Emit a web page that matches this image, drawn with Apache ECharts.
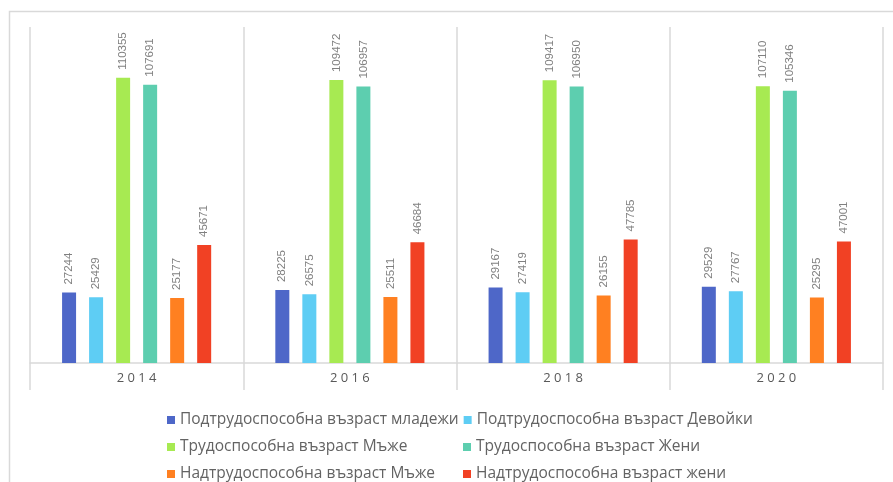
<!DOCTYPE html>
<html><head><meta charset="utf-8">
<script src="https://cdn.jsdelivr.net/npm/echarts@6/dist/echarts.min.js"></script>
<style>html,body{margin:0;padding:0;background:#fff}#c{width:893px;height:482px}</style>
</head><body><div id="c"></div>
<script>
const categories = ['2014', '2016', '2018', '2020'];
const seriesNames = [
  'Подтрудоспособна възраст младежи',
  'Подтрудоспособна възраст Девойки',
  'Трудоспособна възраст Мъже',
  'Трудоспособна възраст Жени',
  'Надтрудоспособна възраст Мъже',
  'Надтрудоспособна възраст жени'
];
const youngMale   = [27244, 28225, 29167, 29529];
const youngFemale = [25429, 26575, 27419, 27767];
const workMale    = [110355, 109472, 109417, 107110];
const workFemale  = [107691, 106957, 106950, 105346];
const oldMale     = [25177, 25511, 26155, 25295];
const oldFemale   = [45671, 46684, 47785, 47001];
const seriesData = [youngMale, youngFemale, workMale, workFemale, oldMale, oldFemale];
const colors = ['#4e67c8', '#5ecdf4', '#a7ea52', '#5dceaf', '#ff8021', '#f14124'];

const chart = echarts.init(document.getElementById('c'));
chart.setOption({
  animation: false,
  color: colors,
  graphic: [{
    type: 'rect', left: 7, top: 9,
    shape: { width: 920, height: 520 },
    style: { fill: 'none', stroke: '#d9d9d9', lineWidth: 1.5 }
  }],
  grid: { left: 30, right: 10, top: 27, bottom: 119 },
  legend: {
    left: 162, top: 404, width: 605,
    itemWidth: 8, itemHeight: 8, itemGap: 5, icon: 'rect',
    textStyle: { color: '#636363', fontFamily: 'Open Sans', fontSize: 15.5, width: 278, lineHeight: 22 },
    data: seriesNames
  },
  xAxis: {
    type: 'category', data: categories,
    axisLine: { lineStyle: { color: '#d9d9d9', width: 1.5 } },
    axisTick: { show: true, length: 27, lineStyle: { color: '#d9d9d9', width: 1.5 } },
    splitLine: { show: true, lineStyle: { color: '#d9d9d9', width: 1.5 } },
    axisLabel: { color: '#595959', fontFamily: 'Open Sans', fontSize: 13, margin: 9,
      formatter: v => v.split('').join(' ') }
  },
  yAxis: { type: 'value', min: 0, max: 130000, show: false, splitLine: { show: false } },
  series: seriesNames.map((n, i) => ({
    name: n, type: 'bar', data: seriesData[i],
    barWidth: 14, barGap: '93%',
    label: { show: true, position: 'top', rotate: 90, align: 'left', verticalAlign: 'middle',
      distance: 8, color: '#808080', fontFamily: 'Liberation Sans', fontSize: 11.5 }
  }))
});
</script></body></html>
